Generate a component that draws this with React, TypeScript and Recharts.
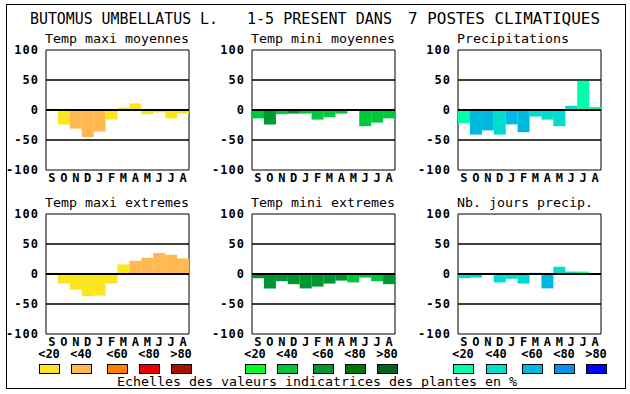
import React from 'react';
import { BarChart, Bar, XAxis, YAxis, CartesianGrid, ReferenceLine, Cell } from 'recharts';

const months = ['S', 'O', 'N', 'D', 'J', 'F', 'M', 'A', 'M', 'J', 'J', 'A'];
const yTicks = [-100, -50, 0, 50, 100];

// valeurs indicatrices (ecart en %) + classe de couleur (0 = <20 ... 4 = >80)
const tmaxMoy = [2, -24, -31, -45, -36, -16, 4, 11, -7, -4, -14, -6];
const tmaxMoyCls = [0, 0, 1, 1, 1, 0, 0, 0, 0, 0, 0, 0];
const tminMoy = [-14, -24, -7, -6, -6, -16, -12, -6, 0, -27, -21, -14];
const tminMoyCls = [1, 2, 1, 2, 1, 1, 1, 1, 1, 1, 1, 1];
const precip = [-22, -41, -34, -41, -24, -37, -11, -16, -27, 7, 49, 5];
const precipCls = [0, 2, 2, 1, 2, 2, 1, 1, 1, 1, 0, 0];
const tmaxExt = [2, -16, -26, -37, -36, -16, 16, 22, 27, 35, 32, 26];
const tmaxExtCls = [0, 0, 0, 0, 0, 0, 0, 1, 1, 1, 1, 1];
const tminExt = [-7, -24, -12, -17, -24, -21, -16, -11, -14, -6, -12, -17];
const tminExtCls = [2, 2, 2, 2, 2, 2, 2, 2, 1, 1, 1, 2];
const nbJours = [-7, -6, 0, -14, -8, -16, 2, -24, 12, 4, 4, 0];
const nbJoursCls = [1, 1, 1, 1, 1, 1, 1, 2, 1, 1, 0, 1];

const reds = ['#fae61e', '#ffb950', '#ff8000', '#ee0000', '#aa1000'];
const greens = ['#00ff1e', '#00c83c', '#009632', '#007800', '#00641e'];
const blues = ['#00ffaa', '#00dccd', '#00b9e1', '#0096eb', '#0000ff'];
const classLabels = ['<20', '<40', '<60', '<80', '>80'];

const MONO = '"DejaVu Sans Mono", "Liberation Mono", monospace';
const PW = 143;
const PH = 120;

interface PanelProps {
  title: string;
  values: number[];
  cls: number[];
  palette: string[];
  left: number;
  top: number;
}

function Panel({ values, cls, palette, left, top }: PanelProps) {
  const data = months.map((m, i) => ({ m, v: values[i], c: cls[i] }));
  const xTick = { fill: '#000', fontSize: 12, fontWeight: 'bold', fontFamily: MONO };
  const yTick = { fill: '#000', fontSize: 12, fontWeight: 'bold', fontFamily: MONO, letterSpacing: 1 };
  return (
    <div style={{ position: 'absolute', left: left - 46, top: top - 8 }}>
      <BarChart
        width={46 + PW + 4}
        height={8 + PH + 24}
        data={data}
        margin={{ top: 8, right: 4, bottom: 0, left: 0 }}
        barCategoryGap={0}
        barGap={0}
      >
        <CartesianGrid
          stroke="#000"
          verticalCoordinatesGenerator={({ offset }: any) => [offset.left, offset.left + offset.width]}
        />
        <XAxis
          dataKey="m"
          interval={0}
          axisLine={false}
          tickLine={false}
          tickSize={0}
          tickMargin={3}
          height={24}
          tick={xTick}
        />
        <YAxis
          domain={[-100, 100]}
          ticks={yTicks}
          width={46}
          axisLine={false}
          tickLine={false}
          tickMargin={1}
          tick={yTick}
        />
        <Bar dataKey="v" isAnimationActive={false}>
          {data.map((d, i) => (
            <Cell key={i} fill={palette[d.c]} />
          ))}
        </Bar>
        <ReferenceLine y={0} stroke="#000" strokeWidth={2} />
        <ReferenceLine y={50} stroke="#000" />
        <ReferenceLine y={-50} stroke="#000" />
      </BarChart>
    </div>
  );
}

const panels = [
  { title: 'Temp maxi moyennes', values: tmaxMoy, cls: tmaxMoyCls, palette: reds, left: 46, top: 50 },
  { title: 'Temp mini moyennes', values: tminMoy, cls: tminMoyCls, palette: greens, left: 252, top: 50 },
  { title: 'Precipitations', values: precip, cls: precipCls, palette: blues, left: 458, top: 50 },
  { title: 'Temp maxi extremes', values: tmaxExt, cls: tmaxExtCls, palette: reds, left: 46, top: 214 },
  { title: 'Temp mini extremes', values: tminExt, cls: tminExtCls, palette: greens, left: 252, top: 214 },
  { title: 'Nb. jours precip.', values: nbJours, cls: nbJoursCls, palette: blues, left: 458, top: 214 },
];

const legends = [
  { palette: reds, xs: [39, 71, 107, 139, 171] },
  { palette: greens, xs: [245, 277, 313, 345, 377] },
  { palette: blues, xs: [453, 486, 522, 554, 586] },
];

export default function App() {
  return (
    <div style={{ position: 'absolute', left: 0, top: 0, width: 630, height: 394, background: '#fff' }}>
      {panels.map((p) => (
        <Panel key={p.title} {...p} />
      ))}
      <svg width={630} height={394} style={{ position: 'absolute', left: 0, top: 0, pointerEvents: 'none' }}>
        <rect x={6.5} y={4.5} width={619} height={384} fill="none" stroke="#000" />
        <g fontFamily={MONO} fontSize={15} fill="#000">
          <text x={30} y={24} textLength={188} lengthAdjust="spacingAndGlyphs">BUTOMUS UMBELLATUS L.</text>
          <text x={247} y={24} textLength={145} lengthAdjust="spacingAndGlyphs">1-5 PRESENT DANS</text>
          <text x={408} y={24} textLength={192} lengthAdjust="spacingAndGlyphs">7 POSTES CLIMATIQUES</text>
        </g>
        <g fontFamily={MONO} fontSize={13} fill="#000">
          {panels.map((p) => (
            <text key={p.title} x={p.left - 1} y={p.top - 7} textLength={p.title.length * 8} lengthAdjust="spacingAndGlyphs">
              {p.title}
            </text>
          ))}
        </g>
        {legends.map((lg, gi) => (
          <g key={gi}>
            {lg.xs.map((x, i) => (
              <g key={i}>
                <text x={x + 10} y={358} textAnchor="middle" fontFamily={MONO} fontSize={12} fontWeight="bold" fill="#000">
                  {classLabels[i]}
                </text>
                <rect x={x + 0.5} y={364.5} width={20} height={9} fill={lg.palette[i]} stroke="#000" />
              </g>
            ))}
          </g>
        ))}
        <text x={117} y={386} textLength={400} lengthAdjust="spacingAndGlyphs" fontFamily={MONO} fontSize={13} fill="#000">
          Echelles des valeurs indicatrices des plantes en %
        </text>
      </svg>
    </div>
  );
}
